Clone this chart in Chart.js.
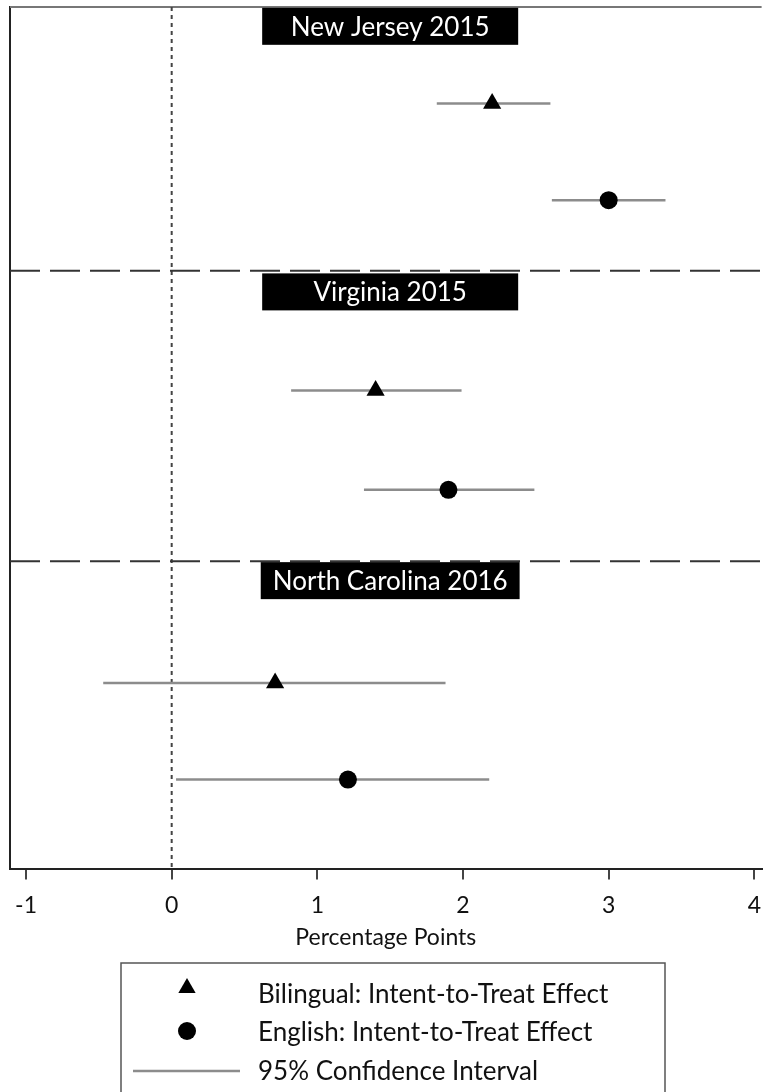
<!DOCTYPE html>
<html>
<head>
<meta charset="utf-8">
<script src="https://cdn.jsdelivr.net/npm/chart.js@4/dist/chart.umd.min.js"></script>
<style>
  html, body { margin: 0; padding: 0; background: #fff; overflow: hidden; }
  #wrap { width: 764px; height: 1092px; position: relative; }
</style>
</head>
<body>
<div id="wrap"><canvas id="effectChart"></canvas></div>
<script>
// panels (one per election) and their estimates, in percentage points
const panels = ['New Jersey 2015', 'Virginia 2015', 'North Carolina 2016'];
const bilingualEst = [2.20, 1.40, 0.71];
const bilingualLo  = [1.82, 0.82, -0.47];
const bilingualHi  = [2.60, 1.99, 1.88];
const englishEst   = [3.00, 1.90, 1.21];
const englishLo    = [2.61, 1.32, 0.03];
const englishHi    = [3.39, 2.49, 2.18];
// row of each estimate on the vertical axis
const bilingualRow = [1, 3.97, 7];
const englishRow   = [2, 5, 8];
const dividerRow   = [2.73, 5.74];
const panelLabelRow = [0.2, 2.95, 5.94];
const xTicks = [-1, 0, 1, 2, 3, 4];

const FONT = 'Lato, "Open Sans", sans-serif';
const CI_COLOR = '#8c8c8c';

const ciSets = [];
panels.forEach((p, i) => {
  ciSets.push({ lo: bilingualLo[i], hi: bilingualHi[i], y: bilingualRow[i] });
  ciSets.push({ lo: englishLo[i], hi: englishHi[i], y: englishRow[i] });
});

const datasets = [
  {
    label: 'Bilingual: Intent-to-Treat Effect',
    data: bilingualEst.map((v, i) => ({ x: v, y: bilingualRow[i] })),
    pointStyle: 'triangle',
    pointRadius: 10.5,
    backgroundColor: '#000',
    borderColor: '#000',
    borderWidth: 0,
    showLine: false
  },
  {
    label: 'English: Intent-to-Treat Effect',
    data: englishEst.map((v, i) => ({ x: v, y: englishRow[i] })),
    pointStyle: 'circle',
    pointRadius: 9,
    backgroundColor: '#000',
    borderColor: '#000',
    borderWidth: 0,
    showLine: false
  }
].concat(ciSets.map(c => ({
  label: '95% Confidence Interval',
  data: [{ x: c.lo, y: c.y }, { x: c.hi, y: c.y }],
  showLine: true,
  borderColor: CI_COLOR,
  borderWidth: 2.5,
  pointRadius: 0
})));

// dashed dividers, dotted zero line, top frame, panel labels
const decorations = {
  id: 'decorations',
  beforeDatasetsDraw(chart) {
    const { ctx, chartArea: a, scales: { x, y } } = chart;
    ctx.save();
    // top frame
    ctx.strokeStyle = '#777';
    ctx.lineWidth = 2;
    ctx.beginPath();
    ctx.moveTo(a.left, a.top);
    ctx.lineTo(a.right, a.top);
    ctx.stroke();
    // zero line
    ctx.strokeStyle = '#444';
    ctx.setLineDash([4, 4]);
    ctx.beginPath();
    ctx.moveTo(x.getPixelForValue(0), a.top);
    ctx.lineTo(x.getPixelForValue(0), a.bottom);
    ctx.stroke();
    // panel dividers
    ctx.strokeStyle = '#333';
    ctx.setLineDash([30, 10]);
    dividerRow.forEach(r => {
      const py = y.getPixelForValue(r);
      ctx.beginPath();
      ctx.moveTo(a.left, py);
      ctx.lineTo(a.right, py);
      ctx.stroke();
    });
    ctx.setLineDash([]);
    // panel labels
    ctx.font = '26px ' + FONT;
    ctx.textAlign = 'center';
    ctx.textBaseline = 'middle';
    const cx = x.getPixelForValue(1.5);
    panels.forEach((p, i) => {
      const cy = y.getPixelForValue(panelLabelRow[i]);
      const w = Math.max(ctx.measureText(p).width + 24, 256);
      ctx.fillStyle = '#000';
      ctx.fillRect(cx - w / 2, cy - 18.5, w, 37);
      ctx.fillStyle = '#fff';
      ctx.fillText(p, cx, cy + 1);
    });
    ctx.restore();
  },
  afterDraw(chart) {
    const ctx = chart.ctx;
    ctx.save();
    // legend box
    ctx.strokeStyle = '#555';
    ctx.lineWidth = 1.5;
    ctx.strokeRect(121, 963, 544, 140);
    ctx.fillStyle = '#000';
    // triangle
    const tx = 187, ty = 988, r = 10;
    ctx.beginPath();
    ctx.moveTo(tx, ty - r);
    ctx.lineTo(tx + r * 0.866, ty + r / 2);
    ctx.lineTo(tx - r * 0.866, ty + r / 2);
    ctx.closePath();
    ctx.fill();
    // circle
    ctx.beginPath();
    ctx.arc(187, 1031, 9, 0, Math.PI * 2);
    ctx.fill();
    // line
    ctx.strokeStyle = CI_COLOR;
    ctx.lineWidth = 2.5;
    ctx.beginPath();
    ctx.moveTo(133, 1071);
    ctx.lineTo(240, 1071);
    ctx.stroke();
    ctx.fillStyle = '#111';
    ctx.font = '26px ' + FONT;
    ctx.textAlign = 'left';
    ctx.textBaseline = 'middle';
    ctx.fillText(datasets[0].label, 258, 995);
    ctx.fillText(datasets[1].label, 258, 1033);
    ctx.fillText('95% Confidence Interval', 258, 1072);
    ctx.restore();
  }
};

new Chart(document.getElementById('effectChart'), {
  type: 'scatter',
  data: { datasets: datasets },
  options: {
    responsive: true,
    maintainAspectRatio: false,
    animation: false,
    layout: { autoPadding: false, padding: { left: 10, top: 7, right: 0, bottom: 137 } },
    scales: {
      x: {
        type: 'linear',
        min: -1.11,
        max: 4.05,
        afterBuildTicks: axis => { axis.ticks = xTicks.map(v => ({ value: v })); },
        grid: { display: true, drawOnChartArea: false, drawTicks: true, tickLength: 10, color: '#444', lineWidth: 2 },
        border: { display: true, color: '#222', width: 2 },
        ticks: { color: '#111', padding: 3, font: { family: FONT, size: 23, lineHeight: 2 } },
        title: { display: true, text: 'Percentage Points', color: '#111', font: { family: FONT, size: 23 }, padding: { top: -8, bottom: 4 } }
      },
      y: {
        type: 'linear',
        reverse: true,
        min: 0,
        max: 8.93,
        ticks: { display: false },
        grid: { display: false, drawTicks: false },
        border: { display: true, color: '#222', width: 2 }
      }
    },
    plugins: {
      legend: { display: false },
      tooltip: { enabled: false }
    }
  },
  plugins: [decorations]
});
</script>
</body>
</html>
